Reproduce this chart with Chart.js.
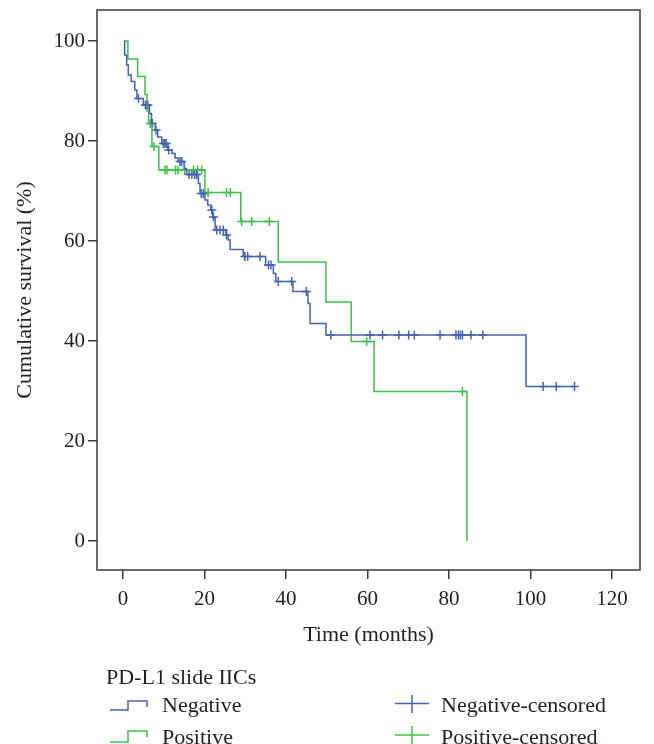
<!DOCTYPE html>
<html><head><meta charset="utf-8">
<script src="https://cdn.jsdelivr.net/npm/chart.js@4/dist/chart.umd.min.js"></script>
<style>
html,body{margin:0;padding:0;background:#fff;}
#wrap{position:relative;width:654px;height:744px;overflow:hidden;background:#fff;}
canvas{position:absolute;left:0;top:0;}
.lg{position:absolute;font-family:"Liberation Serif","Times New Roman",serif;font-size:22px;line-height:22px;color:#231f20;white-space:nowrap;}
svg{position:absolute;overflow:visible;}
</style></head><body>
<div id="wrap">
<canvas id="c" width="654" height="744"></canvas>
<div class="lg" style="left:106px;top:666px">PD-L1 slide IICs</div>
<svg style="left:0;top:0" width="654" height="744">
  <polyline points="110,710 128,710 128,701 147,701 147,707" fill="none" stroke="#4563b0" stroke-width="1.5"/>
  <polyline points="110,742 128,742 128,731 147,731 147,737" fill="none" stroke="#3fbf4c" stroke-width="1.5"/>
  <line x1="395" y1="703.5" x2="429" y2="703.5" stroke="#4563b0" stroke-width="1.5"/>
  <line x1="412" y1="695" x2="412" y2="713" stroke="#4563b0" stroke-width="1.5"/>
  <line x1="395" y1="735" x2="429" y2="735" stroke="#3fbf4c" stroke-width="1.5"/>
  <line x1="412" y1="726" x2="412" y2="744" stroke="#3fbf4c" stroke-width="1.5"/>
</svg>
<div class="lg" style="left:162px;top:694px">Negative</div>
<div class="lg" style="left:162px;top:726px">Positive</div>
<div class="lg" style="left:441px;top:694px">Negative-censored</div>
<div class="lg" style="left:441px;top:726px">Positive-censored</div>
</div>
<script>
// ---- data ----
const xTicks = [0, 20, 40, 60, 80, 100, 120];
const yTicks = [0, 20, 40, 60, 80, 100];

const negTimes = [0.2, 0.4, 0.9, 1.3, 2.0, 2.9, 3.4, 5.0, 6.5, 7.0, 7.9, 8.5, 9.5, 11.0, 12.0, 12.8, 13.5, 15.0, 15.6, 18.5, 18.9, 20.1, 20.8, 21.5, 22.0, 22.6, 25.2, 25.8, 26.3, 29.5, 35.0, 36.9, 37.5, 41.7, 45.4, 45.9, 49.8, 98.9, 110.8];
const negSurv  = [100, 97.2, 95.2, 93.2, 91.9, 90.2, 88.5, 87.2, 85.5, 83.5, 82.2, 80.8, 79.5, 78.2, 77.5, 76.6, 75.9, 74.5, 73.3, 71.5, 69.5, 68.2, 67.2, 66.2, 64.8, 62.2, 61.2, 60.2, 58.3, 56.9, 55.2, 53.5, 51.9, 49.9, 47.5, 43.5, 41.2, 30.9, 30.9];
const negCensored = [3.8, 5.5, 5.8, 6.1, 7.2, 8.1, 9.9, 10.3, 10.6, 11.2, 14.0, 14.4, 16.2, 16.9, 17.6, 18.1, 19.2, 19.7, 21.8, 22.2, 23.0, 23.8, 24.6, 25.4, 29.9, 30.6, 33.6, 35.7, 36.3, 38.1, 41.4, 45.0, 51.0, 60.6, 63.7, 67.7, 70.1, 71.5, 77.8, 81.7, 82.3, 82.8, 83.3, 85.4, 88.3, 103.1, 106.3, 110.8];

const posTimes = [0.5, 1.2, 3.6, 5.4, 5.9, 6.3, 7.1, 8.8, 20.1, 28.9, 38.1, 49.8, 56.0, 61.6, 84.4];
const posSurv  = [100, 96.4, 92.9, 89.3, 86.0, 83.5, 78.9, 74.2, 69.7, 63.9, 55.8, 47.8, 39.9, 29.9, 0];
const posCensored = [6.7, 7.6, 10.3, 10.8, 12.9, 13.5, 15.1, 17.3, 18.3, 19.3, 20.9, 25.4, 26.3, 29.1, 31.6, 35.9, 59.8, 83.3];

const NEG = '#4563b0', POS = '#3fbf4c', INK = '#231f20', FRAME = '#3a3a3a';

function steps(t, s) { return t.map((x, i) => ({x, y: s[i]})); }
function survAt(t, s, x) { let v = s[0]; for (let i = 0; i < t.length; i++) { if (t[i] <= x) v = s[i]; } return v; }
function marks(t, s, c) { return c.map(x => ({x, y: survAt(t, s, x)})); }

const framePlugin = {
  id: 'frame',
  afterDatasetsDraw(chart) {
    const {ctx, chartArea: a} = chart;
    ctx.save();
    ctx.strokeStyle = FRAME; ctx.lineWidth = 1.5;
    ctx.strokeRect(a.left, a.top, a.right - a.left, a.bottom - a.top);
    ctx.restore();
  }
};

new Chart(document.getElementById('c'), {
  type: 'scatter',
  data: {
    datasets: [
      {type: 'line', label: 'Negative', data: steps(negTimes, negSurv), stepped: 'before', borderColor: NEG, borderWidth: 1.5, pointRadius: 0, fill: false},
      {type: 'line', label: 'Positive', data: steps(posTimes, posSurv), stepped: 'before', borderColor: POS, borderWidth: 1.5, pointRadius: 0, fill: false},
      {label: 'Negative-censored', data: marks(negTimes, negSurv, negCensored), showLine: false, pointStyle: 'cross', pointRadius: 4.5, borderColor: NEG, backgroundColor: NEG, pointBorderWidth: 1.5},
      {label: 'Positive-censored', data: marks(posTimes, posSurv, posCensored), showLine: false, pointStyle: 'cross', pointRadius: 4.5, borderColor: POS, backgroundColor: POS, pointBorderWidth: 1.5}
    ]
  },
  options: {
    responsive: false, animation: false, devicePixelRatio: 1,
    layout: {padding: {left: 0, right: 14, top: 10, bottom: 94}},
    plugins: {legend: {display: false}, tooltip: {enabled: false}},
    scales: {
      x: {
        type: 'linear', min: -6.38, max: 126.87,
        afterBuildTicks: s => { s.ticks = xTicks.map(v => ({value: v})); },
        afterFit: s => { s.height = 80; s.paddingLeft = 0; s.paddingRight = 0; },
        border: {display: false},
        grid: {display: true, drawOnChartArea: false, drawTicks: true, tickLength: 9, color: FRAME, lineWidth: 1.5},
        ticks: {color: INK, padding: 8, font: {family: '"Liberation Serif", serif', size: 21}},
        title: {display: true, text: 'Time (months)', color: INK, padding: {top: 0, bottom: 2}, font: {family: '"Liberation Serif", serif', size: 22}}
      },
      y: {
        type: 'linear', min: -5.8, max: 106.2,
        afterBuildTicks: s => { s.ticks = yTicks.map(v => ({value: v})); },
        afterFit: s => { s.width = 97; s.paddingTop = 0; s.paddingBottom = 0; },
        border: {display: false},
        grid: {display: true, drawOnChartArea: false, drawTicks: true, tickLength: 9, color: FRAME, lineWidth: 1.5},
        ticks: {color: INK, padding: 3, font: {family: '"Liberation Serif", serif', size: 21}},
        title: {display: true, text: 'Cumulative survival (%)', color: INK, padding: {top: 12, bottom: 0}, font: {family: '"Liberation Serif", serif', size: 22}}
      }
    }
  },
  plugins: [framePlugin]
});
</script>
</body></html>
